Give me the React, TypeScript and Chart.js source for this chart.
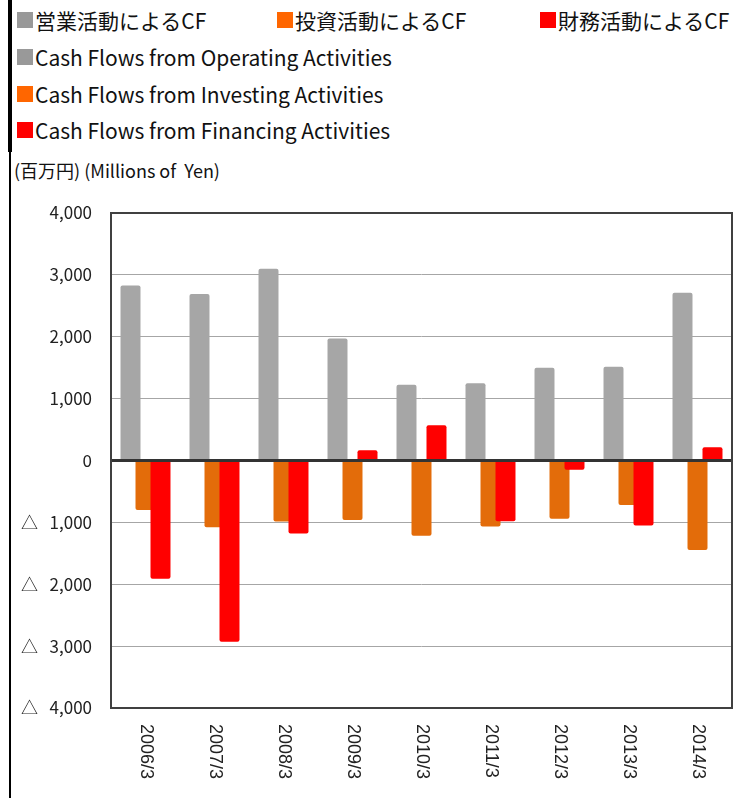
import React, { useEffect, useRef } from 'react';
import { Chart, registerables } from 'chart.js';

Chart.register(...registerables);

const categories = ['2006/3', '2007/3', '2008/3', '2009/3', '2010/3', '2011/3', '2012/3', '2013/3', '2014/3'];
const operatingCF = [2830, 2690, 3100, 1970, 1225, 1250, 1500, 1515, 2710];
const investingCF = [-800, -1080, -985, -960, -1215, -1065, -940, -720, -1445];
const financingCF = [-1910, -2930, -1180, 165, 570, -980, -150, -1050, 215];

const legendJa = ['営業活動によるCF', '投資活動によるCF', '財務活動によるCF'];
const legendEn = [
  'Cash Flows from Operating Activities',
  'Cash Flows from Investing Activities',
  'Cash Flows from Financing Activities',
];
const unitLabel = '(百万円) (Millions of  Yen)';

const barColors = ['#a6a6a6', '#e36c0a', '#ff0000'];
const legendColors = ['#999999', '#ff6600', '#ff0000'];

const Y_MIN = -4000;
const Y_MAX = 4000;
const Y_STEP = 1000;

const fmtTick = (v: number) => {
  const s = Math.abs(v).toLocaleString('en-US');
  return v < 0 ? '△   ' + s : s;
};

const customDraw = {
  id: 'customDraw',
  beforeDatasetsDraw(chart: any) {
    const n = chart.data.datasets.length;
    for (let i = 0; i < n; i++) {
      const meta = chart.getDatasetMeta(i);
      if (!meta.hidden) meta.controller.draw();
    }
    const { ctx, chartArea: a, scales } = chart;
    const y0 = scales.y.getPixelForValue(0);
    ctx.save();
    ctx.strokeStyle = '#333333';
    ctx.lineWidth = 3;
    ctx.beginPath();
    ctx.moveTo(a.left, y0);
    ctx.lineTo(a.right, y0);
    ctx.stroke();
    ctx.strokeStyle = '#404040';
    ctx.lineWidth = 2;
    ctx.strokeRect(a.left, a.top, a.right - a.left, a.bottom - a.top);
    ctx.fillStyle = '#222222';
    ctx.font = '18px "Liberation Sans", Arial, sans-serif';
    ctx.textAlign = 'left';
    ctx.textBaseline = 'middle';
    const labels = chart.data.labels as string[];
    labels.forEach((lab, i) => {
      const x = scales.x.getPixelForValue(i);
      ctx.save();
      ctx.translate(x, a.bottom + 16);
      ctx.rotate(Math.PI / 2);
      ctx.fillText(String(lab), 0, 0);
      ctx.restore();
    });
    ctx.restore();
    return false;
  },
};

export default function App() {
  const ref = useRef<HTMLCanvasElement>(null);

  useEffect(() => {
    if (!ref.current) return;
    const chart = new Chart(ref.current, {
      type: 'bar',
      data: {
        labels: categories,
        datasets: [
          { label: legendEn[0], data: operatingCF, backgroundColor: barColors[0], borderRadius: 2 },
          { label: legendEn[1], data: investingCF, backgroundColor: barColors[1], borderRadius: 2 },
          { label: legendEn[2], data: financingCF, backgroundColor: barColors[2], borderRadius: 2 },
        ],
      },
      options: {
        animation: false,
        responsive: false,
        devicePixelRatio: 1,
        datasets: {
          bar: { categoryPercentage: 0.652, barPercentage: 1.333 },
        },
        layout: { padding: { top: 18, bottom: 90, right: 1, left: 0 } },
        plugins: { legend: { display: false }, tooltip: { enabled: false } },
        scales: {
          x: { display: false },
          y: {
            min: Y_MIN,
            max: Y_MAX,
            afterFit: (scale: any) => {
              scale.width = 111;
              scale.paddingTop = 0;
              scale.paddingBottom = 0;
            },
            border: { display: false },
            grid: { color: '#a6a6a6', lineWidth: 1, drawTicks: false },
            ticks: {
              stepSize: Y_STEP,
              padding: 19,
              color: '#222222',
              font: { family: '"Noto Sans CJK JP", sans-serif', size: 17 },
              callback: (v: any) => fmtTick(Number(v)),
            },
          },
        },
      },
      plugins: [customDraw],
    });
    return () => chart.destroy();
  }, []);

  const textFont = '"Noto Sans CJK JP", sans-serif';
  const sq = (c: string) => (
    <span style={{ display: 'inline-block', width: 16, height: 16, background: c, marginRight: 2, flex: '0 0 auto' }} />
  );
  const row = (top: number, left: number, color: string, text: string, key: string) => (
    <div
      key={key}
      style={{
        position: 'absolute',
        top: top - 15,
        left,
        height: 30,
        display: 'flex',
        alignItems: 'center',
        fontFamily: textFont,
        fontSize: 21,
        color: '#111',
        whiteSpace: 'pre',
      }}
    >
      {sq(color)}
      <span>{text}</span>
    </div>
  );

  return (
    <div style={{ position: 'fixed', left: 0, top: 0, width: 733, height: 798, background: '#fff', overflow: 'hidden' }}>
      <div style={{ position: 'absolute', left: 8, top: 0, width: 4, height: 152, background: '#000' }} />
      <div style={{ position: 'absolute', left: 9, top: 150, width: 2, height: 648, background: '#000' }} />
      {row(20, 17, legendColors[0], legendJa[0], 'j0')}
      {row(20, 277, legendColors[1], legendJa[1], 'j1')}
      {row(20, 540, legendColors[2], legendJa[2], 'j2')}
      {row(57, 17, legendColors[0], legendEn[0], 'e0')}
      {row(93.5, 17, legendColors[1], legendEn[1], 'e1')}
      {row(129.5, 17, legendColors[2], legendEn[2], 'e2')}
      <div
        style={{
          position: 'absolute',
          left: 14,
          top: 170 - 12,
          height: 24,
          lineHeight: '24px',
          fontFamily: textFont,
          fontSize: 18,
          color: '#111',
          whiteSpace: 'pre',
        }}
      >
        {unitLabel}
      </div>
      <canvas ref={ref} width={733} height={603} style={{ position: 'absolute', left: 0, top: 195, width: 733, height: 603 }} />
    </div>
  );
}
